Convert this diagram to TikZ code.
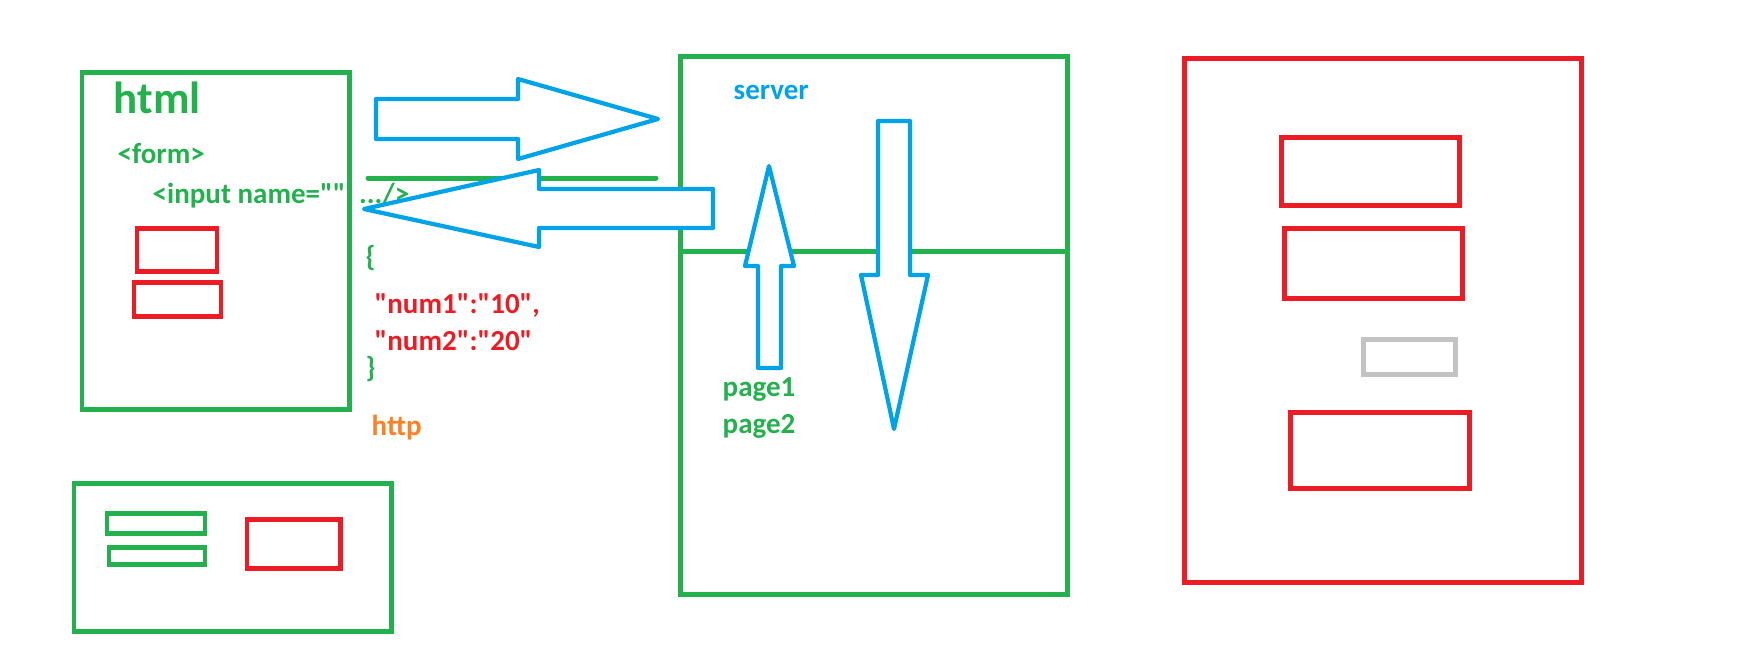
\documentclass[tikz,border=0pt]{standalone}
\usepackage{fontspec}
\setmainfont{Carlito}[Ligatures=TeXOff]
\usetikzlibrary{calc}

\definecolor{pgreen}{HTML}{22B14C}
\definecolor{pred}{HTML}{ED1C24}
\definecolor{pblue}{HTML}{00A2E8}
\definecolor{porange}{HTML}{FF7F27}
\definecolor{pgray}{HTML}{C3C3C3}

\tikzset{
    gbox/.style={draw=pgreen, line width=1.42pt},
    rbox/.style={draw=pred, line width=1.42pt},
    greybox/.style={draw=pgray, line width=1.42pt},
    blockarrow/.style={draw=pblue, fill=white, line width=1.2pt, line join=round},
    txt/.style={anchor=base west, inner sep=0pt, font=\fontsize{8.25}{10}\selectfont\bfseries},
}

\begin{document}
\begin{tikzpicture}[x=0.01cm, y=-0.01cm]
        \useasboundingbox (0,0) rectangle (1751,648);

        % html page
        \node[txt, pgreen, font=\fontsize{12.8}{14}\selectfont\bfseries] (html) at (113,113) {html};
        \node[txt, pgreen] (form) at (117,163) {<form>};
        \node[txt, pgreen] (input) at (152,203) {<input name=""\hspace{2pt} .../>};
        \draw[gbox] (82,72) rectangle (349,409);
        \draw[rbox] (137,228) rectangle (217,271);
        \draw[rbox] (134,282) rectangle (221,316);

        % json data
        \node[txt, pgreen] (lbrace) at (365,266) {\{};
        \node[txt, pred] (num1) at (374,313) {"num1":"10",};
        \node[txt, pred] (num2) at (374,350) {"num2":"20"};
        \node[txt, pgreen] (rbrace) at (365,377) {\}};
        \node[txt, porange] (http) at (371,435) {http};

        % small page
        \draw[gbox] (74,483) rectangle (391,631);
        \draw[gbox] (107,513) rectangle (205,533);
        \draw[gbox] (109,547) rectangle (205,564);
        \draw[rbox] (247,519) rectangle (340,568);

        % server
        \draw[gbox] (680,56) rectangle (1067,594);
        \draw[gbox] (680,251) -- (1067,251);
        \node[txt, pblue] (server) at (733,99) {server};
        \node[txt, pgreen] (page1) at (722,396) {page1};
        \node[txt, pgreen] (page2) at (722,433) {page2};

        \draw[gbox, line cap=round] (368,178) -- (656,178);

        % request / response
        \draw[blockarrow] (376,99) -- (518,99) -- (518,79) -- (658,119) -- (518,159) -- (518,139) -- (376,139) -- cycle;
        \draw[blockarrow] (713,189) -- (539,189) -- (539,170) -- (364,209) -- (539,247) -- (539,228) -- (713,228) -- cycle;
        \draw[blockarrow] (758,368) -- (758,266) -- (745,266) -- (769,166) -- (794,266) -- (781,266) -- (781,368) -- cycle;
        \draw[blockarrow] (878,121) -- (910,121) -- (910,275) -- (928,275) -- (894,429) -- (861,275) -- (878,275) -- cycle;

        % result page
        \draw[rbox] (1184,58) rectangle (1581,582);
        \draw[rbox] (1281,137) rectangle (1459,205);
        \draw[rbox] (1284,228) rectangle (1462,298);
        \draw[greybox] (1363,339) rectangle (1455,374);
        \draw[rbox] (1290,412) rectangle (1469,488);
    \end{tikzpicture}
\end{document}
